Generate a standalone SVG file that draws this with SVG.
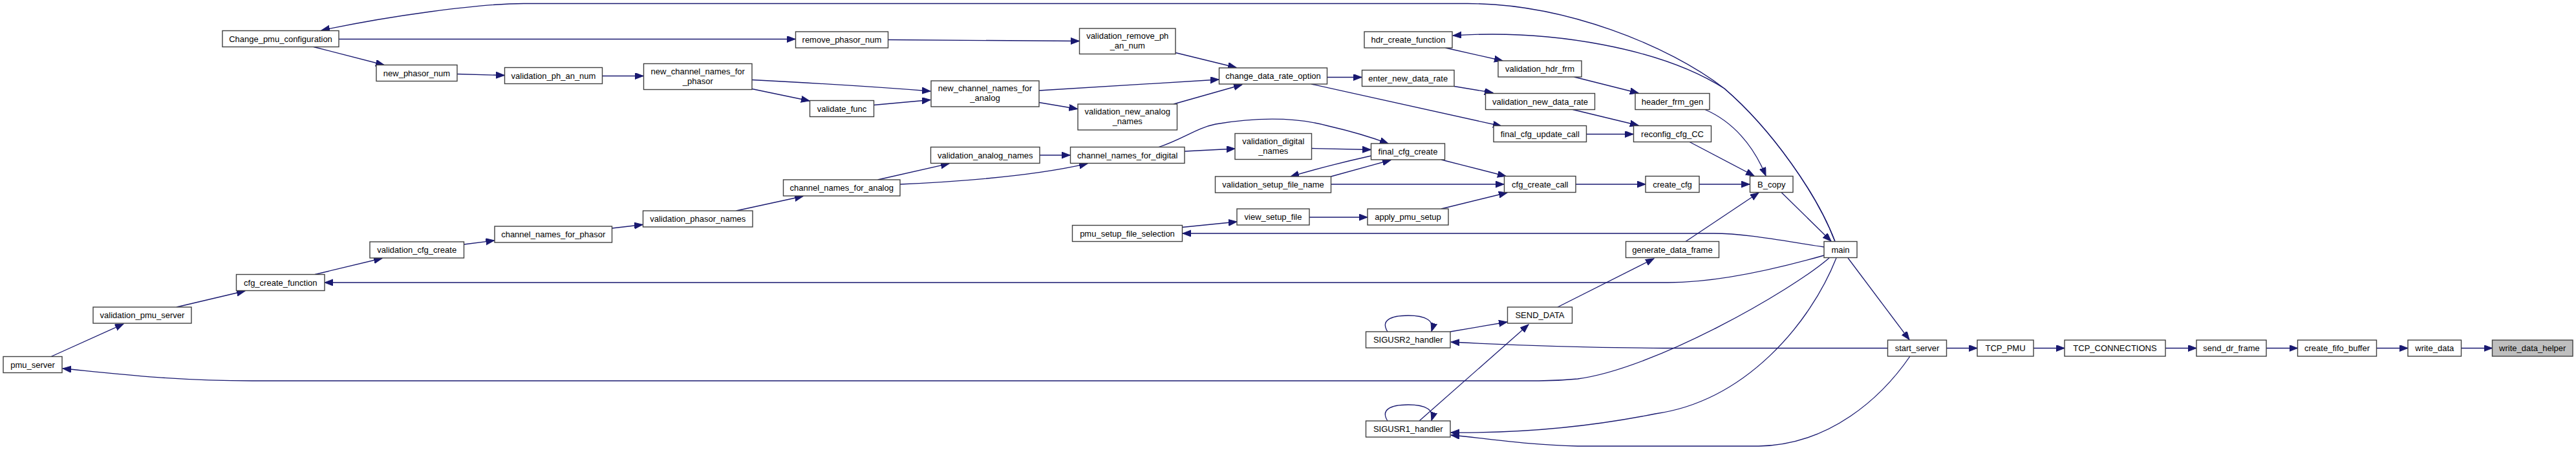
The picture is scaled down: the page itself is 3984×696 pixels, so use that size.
<svg xmlns="http://www.w3.org/2000/svg" width="3984" height="696" viewBox="0 0 3984 696">
<defs>
<style>
.n rect{fill:#ffffff;stroke:#404040;stroke-width:1.4}
.n text{font-family:"Liberation Sans",Arial,sans-serif;font-size:13px;fill:#000;text-anchor:middle}
#write_data_helper rect{fill:#bfbfbf}
#edges path{fill:none;stroke:#191970;stroke-width:1.3;marker-end:url(#ah)}
</style>
<marker id="ah" markerUnits="userSpaceOnUse" markerWidth="14" markerHeight="11" refX="13" refY="5" orient="auto">
<path d="M0,0 L13,5 L0,10 z" fill="#191970" stroke="#191970" stroke-width="1"/>
</marker>
</defs>
<rect width="3984" height="696" fill="#ffffff"/>
<g id="edges">
<path d="M2838,373.5 C2810,300 2740,200 2667,137 C2580,70 2420,5.5 2270,5.5 L810,5.5 C740,5.5 600,25 497,47"/>
<path d="M2838,373.5 C2810,300 2740,200 2667,137 C2570,75 2400,45 2247,55"/>
<path d="M524,60.5 L1230,60.5"/>
<path d="M485,72.5 L594,100.5"/>
<path d="M707,114.5 L780,116.5"/>
<path d="M931,117.5 L995,117.5"/>
<path d="M1163,123.5 C1250,128 1350,134 1439,141"/>
<path d="M1163,137.5 L1252,156"/>
<path d="M1351,162.5 L1439,154.5"/>
<path d="M1373.5,61.5 L1669,63.5"/>
<path d="M1818,81.5 L1912,104.5"/>
<path d="M1607,140 L1885,123"/>
<path d="M1607,158.5 L1666.5,168.5"/>
<path d="M1815,161 L1921,131"/>
<path d="M2052.5,119.5 L2106,119.5"/>
<path d="M2028,130 L2322,195"/>
<path d="M2235.5,74 L2324,94"/>
<path d="M2249,133.5 L2309,143.5"/>
<path d="M2434.5,119 L2534,144"/>
<path d="M2432.5,169.5 L2534,194"/>
<path d="M2453.5,207.5 L2526,207.5"/>
<path d="M2637,169.5 C2680,188 2712,225 2731,272"/>
<path d="M2613,219.5 L2713,272"/>
<path d="M2628,285 L2706,285"/>
<path d="M2607,373.5 L2720,298"/>
<path d="M2755,297.5 L2832,373"/>
<path d="M717.5,378 L764.5,372"/>
<path d="M946.5,353 L994,347.5"/>
<path d="M1138.5,326 L1242,303.5"/>
<path d="M1357.5,278 L1468,253"/>
<path d="M1392,285 C1480,281 1600,272 1682,253"/>
<path d="M1608,240 L1655,240"/>
<path d="M1792,227.5 C1830,215 1850,198 1880,192 C1940,182 2000,180 2055,195 C2090,203 2120,212 2147,222"/>
<path d="M1832,234 L1910,230"/>
<path d="M2028.5,229.5 L2120,231.5"/>
<path d="M2120.5,241 C2080,250 2040,260 1996,273"/>
<path d="M2058.5,273 L2151,247.5"/>
<path d="M2229,247 L2329,272.5"/>
<path d="M2058.5,285 L2326,285"/>
<path d="M2437,285 L2545,285"/>
<path d="M1828.5,351.5 L1913,343"/>
<path d="M2025,336 L2115,336"/>
<path d="M2229,323 L2331,298"/>
<path d="M2821,382 C2760,373 2700,361 2650,361 L1829,361"/>
<path d="M2821,395 C2740,418 2650,437 2580,437 L502,437"/>
<path d="M487,424.5 L591,399.5"/>
<path d="M273,475 L379,450"/>
<path d="M79,551.5 L191,501"/>
<path d="M2829,399 C2770,450 2560,570 2440,586 C2420,588 2400,589 2380,589 L390,589 C260,589 160,576 97,570"/>
<path d="M2919.5,538.5 L2573,538.5 C2500,538 2400,537 2244,529"/>
<path d="M2840,399 C2800,500 2700,620 2560,640 C2450,662 2350,670 2244,669"/>
<path d="M2954,551 C2910,615 2830,688 2720,690 L2440,690 C2360,688 2300,678 2244,673"/>
<path d="M2858,399 L2953,525.5"/>
<path d="M2409,475 L2558,400"/>
<path d="M2243,513 L2331,498"/>
<path d="M2195,651 L2364,502"/>
<path d="M2146,513 C2135,496 2150,488 2178,488 C2205,488 2219,496 2214,512.5"/>
<path d="M2146,651 C2135,634 2150,626 2178,626 C2205,626 2219,634 2214,650.5"/>
<path d="M3010.5,538.5 L3058,538.5"/>
<path d="M3145,538.5 L3193,538.5"/>
<path d="M3349,538.5 L3397,538.5"/>
<path d="M3505,538.5 L3553.5,538.5"/>
<path d="M3675.5,538.5 L3724,538.5"/>
<path d="M3806.5,538.5 L3854.5,538.5"/>
</g>
<g id="pmu_server" class="n"><rect x="5" y="551.5" width="91" height="25"/><text x="50.5" y="568.5">pmu_server</text></g>
<g id="validation_pmu_server" class="n"><rect x="144" y="475" width="152" height="25"/><text x="220" y="492">validation_pmu_server</text></g>
<g id="cfg_create_function" class="n"><rect x="365.5" y="424.5" width="136.5" height="25"/><text x="433.75" y="441.5">cfg_create_function</text></g>
<g id="Change_pmu_configuration" class="n"><rect x="344" y="47.5" width="180" height="25"/><text x="434" y="64.5">Change_pmu_configuration</text></g>
<g id="new_phasor_num" class="n"><rect x="582" y="100.5" width="125" height="25"/><text x="644.5" y="117.5">new_phasor_num</text></g>
<g id="validation_cfg_create" class="n"><rect x="572" y="374" width="145.5" height="25"/><text x="644.75" y="391">validation_cfg_create</text></g>
<g id="validation_ph_an_num" class="n"><rect x="780.5" y="104.5" width="151" height="25"/><text x="856" y="121.5">validation_ph_an_num</text></g>
<g id="new_channel_names_for_phasor" class="n"><rect x="995.5" y="98.5" width="167.5" height="40"/><text x="1079.25" y="114.5">new_channel_names_for</text><text x="1079.25" y="129.5">_phasor</text></g>
<g id="remove_phasor_num" class="n"><rect x="1230.5" y="49" width="143" height="25"/><text x="1302" y="66">remove_phasor_num</text></g>
<g id="validate_func" class="n"><rect x="1252.5" y="155.5" width="99" height="25"/><text x="1302" y="172.5">validate_func</text></g>
<g id="channel_names_for_phasor" class="n"><rect x="765" y="350" width="181.5" height="25"/><text x="855.75" y="367">channel_names_for_phasor</text></g>
<g id="validation_phasor_names" class="n"><rect x="994.5" y="326" width="169.5" height="25"/><text x="1079.25" y="343">validation_phasor_names</text></g>
<g id="channel_names_for_analog" class="n"><rect x="1211.5" y="278" width="180.5" height="25"/><text x="1301.75" y="295">channel_names_for_analog</text></g>
<g id="validation_remove_ph_an_num" class="n"><rect x="1669.5" y="44" width="148.5" height="39.5"/><text x="1743.75" y="60">validation_remove_ph</text><text x="1743.75" y="75">_an_num</text></g>
<g id="new_channel_names_for_analog" class="n"><rect x="1440" y="125" width="167" height="40"/><text x="1523.5" y="141">new_channel_names_for</text><text x="1523.5" y="156">_analog</text></g>
<g id="validation_new_analog_names" class="n"><rect x="1667" y="161" width="153.5" height="40"/><text x="1743.75" y="177">validation_new_analog</text><text x="1743.75" y="192">_names</text></g>
<g id="change_data_rate_option" class="n"><rect x="1885.5" y="105" width="167" height="25"/><text x="1969" y="122">change_data_rate_option</text></g>
<g id="validation_analog_names" class="n"><rect x="1439.5" y="227.5" width="168.5" height="25"/><text x="1523.75" y="244.5">validation_analog_names</text></g>
<g id="channel_names_for_digital" class="n"><rect x="1655.5" y="227.5" width="176.5" height="25"/><text x="1743.75" y="244.5">channel_names_for_digital</text></g>
<g id="validation_digital_names" class="n"><rect x="1910" y="206.5" width="118.5" height="40"/><text x="1969.25" y="222.5">validation_digital</text><text x="1969.25" y="237.5">_names</text></g>
<g id="validation_setup_file_name" class="n"><rect x="1879.5" y="273" width="179" height="25"/><text x="1969" y="290">validation_setup_file_name</text></g>
<g id="view_setup_file" class="n"><rect x="1913" y="323" width="112" height="25"/><text x="1969" y="340">view_setup_file</text></g>
<g id="pmu_setup_file_selection" class="n"><rect x="1658.5" y="348.5" width="170" height="25"/><text x="1743.5" y="365.5">pmu_setup_file_selection</text></g>
<g id="hdr_create_function" class="n"><rect x="2110" y="49" width="136" height="25"/><text x="2178" y="66">hdr_create_function</text></g>
<g id="validation_hdr_frm" class="n"><rect x="2317" y="94" width="129" height="25"/><text x="2381.5" y="111">validation_hdr_frm</text></g>
<g id="enter_new_data_rate" class="n"><rect x="2106.5" y="108.5" width="142.5" height="25"/><text x="2177.75" y="125.5">enter_new_data_rate</text></g>
<g id="validation_new_data_rate" class="n"><rect x="2297.5" y="144.5" width="169" height="25"/><text x="2382" y="161.5">validation_new_data_rate</text></g>
<g id="header_frm_gen" class="n"><rect x="2529" y="144.5" width="115" height="25"/><text x="2586.5" y="161.5">header_frm_gen</text></g>
<g id="final_cfg_update_call" class="n"><rect x="2310" y="194.5" width="143.5" height="25"/><text x="2381.75" y="211.5">final_cfg_update_call</text></g>
<g id="reconfig_cfg_CC" class="n"><rect x="2526.5" y="194.5" width="120" height="25"/><text x="2586.5" y="211.5">reconfig_cfg_CC</text></g>
<g id="final_cfg_create" class="n"><rect x="2120.5" y="222" width="114" height="25"/><text x="2177.5" y="239">final_cfg_create</text></g>
<g id="cfg_create_call" class="n"><rect x="2326.5" y="272.5" width="110.5" height="25"/><text x="2381.75" y="289.5">cfg_create_call</text></g>
<g id="create_cfg" class="n"><rect x="2545" y="272.5" width="83" height="25"/><text x="2586.5" y="289.5">create_cfg</text></g>
<g id="apply_pmu_setup" class="n"><rect x="2115" y="323" width="125" height="25"/><text x="2177.5" y="340">apply_pmu_setup</text></g>
<g id="generate_data_frame" class="n"><rect x="2514.5" y="373.5" width="144" height="25"/><text x="2586.5" y="390.5">generate_data_frame</text></g>
<g id="SEND_DATA" class="n"><rect x="2331.5" y="475" width="100" height="25"/><text x="2381.5" y="492">SEND_DATA</text></g>
<g id="SIGUSR2_handler" class="n"><rect x="2112.5" y="513" width="130.5" height="25"/><text x="2177.75" y="530">SIGUSR2_handler</text></g>
<g id="SIGUSR1_handler" class="n"><rect x="2112.5" y="651" width="130.5" height="25"/><text x="2177.75" y="668">SIGUSR1_handler</text></g>
<g id="B_copy" class="n"><rect x="2706.5" y="272.5" width="66.5" height="25"/><text x="2739.75" y="289.5">B_copy</text></g>
<g id="main" class="n"><rect x="2821" y="373.5" width="51" height="25"/><text x="2846.5" y="390.5">main</text></g>
<g id="start_server" class="n"><rect x="2919.5" y="526" width="91" height="25"/><text x="2965" y="543">start_server</text></g>
<g id="TCP_PMU" class="n"><rect x="3058" y="526" width="87" height="25"/><text x="3101.5" y="543">TCP_PMU</text></g>
<g id="TCP_CONNECTIONS" class="n"><rect x="3193" y="526" width="156" height="25"/><text x="3271" y="543">TCP_CONNECTIONS</text></g>
<g id="send_dr_frame" class="n"><rect x="3397" y="526" width="108" height="25"/><text x="3451" y="543">send_dr_frame</text></g>
<g id="create_fifo_buffer" class="n"><rect x="3553.5" y="526" width="122" height="25"/><text x="3614.5" y="543">create_fifo_buffer</text></g>
<g id="write_data" class="n"><rect x="3724" y="526" width="82.5" height="25"/><text x="3765.25" y="543">write_data</text></g>
<g id="write_data_helper" class="n"><rect x="3854.5" y="526" width="124.5" height="25"/><text x="3916.75" y="543">write_data_helper</text></g>
</svg>
